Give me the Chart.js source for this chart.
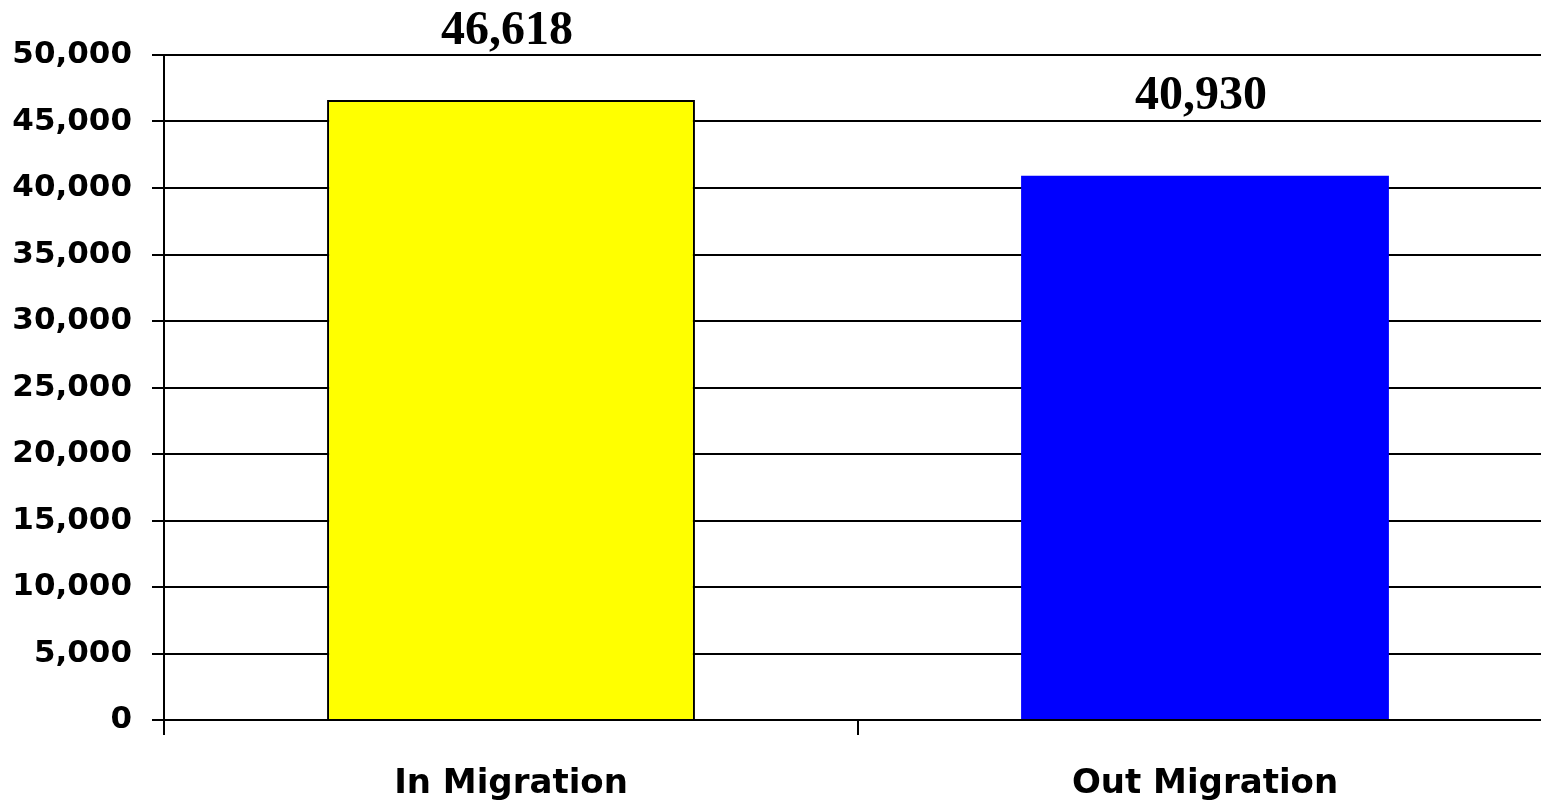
<!DOCTYPE html>
<html>
<head>
<meta charset="utf-8">
<script src="https://cdn.jsdelivr.net/npm/chart.js@4/dist/chart.umd.min.js"></script>
<style>
  html, body { margin: 0; padding: 0; background: #fff; overflow: hidden; }
  #wrap { width: 1552px; height: 810px; position: relative; }
</style>
</head>
<body>
<div id="wrap"><canvas id="chart"></canvas></div>
<script>
// data
const categories = ['In Migration', 'Out Migration'];
const values = [46618, 40930];
const barColors = ['#FFFF00', '#0000FF'];
const barBorders = ['#000000', '#0000FF'];
const yMax = 50000;
const yStep = 5000;

const fmt = v => Number(v).toLocaleString('en-US');

// value labels above bars (Times-like bold)
const valueLabels = {
  id: 'valueLabels',
  afterDatasetsDraw(chart) {
    const ctx = chart.ctx;
    const meta = chart.getDatasetMeta(0);
    ctx.save();
    ctx.font = 'bold 48px "Liberation Serif", "Times New Roman", serif';
    ctx.fillStyle = '#000';
    ctx.textAlign = 'center';
    ctx.textBaseline = 'alphabetic';
    meta.data.forEach((bar, i) => {
      const y = Math.max(bar.y - 67, 44);
      ctx.fillText(fmt(values[i]), bar.x - 4, y);
    });
    ctx.restore();
  }
};

new Chart(document.getElementById('chart'), {
  type: 'bar',
  data: {
    labels: categories,
    datasets: [{
      data: values,
      backgroundColor: barColors,
      borderColor: barBorders,
      borderWidth: [2, 0],
      categoryPercentage: 1,
      barPercentage: 0.53,
    }],
  },
  options: {
    responsive: true,
    maintainAspectRatio: false,
    animation: false,
    layout: { padding: { top: 55, right: 0, bottom: 0, left: 0 } },
    plugins: {
      legend: { display: false },
      tooltip: { enabled: false },
    },
    scales: {
      x: {
        grid: {
          offset: true,
          drawOnChartArea: false,
          drawTicks: true,
          tickLength: 15,
          color: '#000',
          lineWidth: 2,
        },
        border: { color: '#000', width: 2 },
        ticks: {
          color: '#000',
          padding: 29,
          font: { family: '"DejaVu Sans", sans-serif', size: 34, weight: 'bold' },
        },
        afterFit(scale) { scale.height = 90; },
      },
      y: {
        min: 0,
        max: yMax,
        ticks: {
          stepSize: yStep,
          color: '#000',
          padding: 20,
          font: { family: '"DejaVu Sans", sans-serif', size: 31, weight: 'bold' },
          callback: v => fmt(v),
        },
        grid: {
          color: '#000',
          lineWidth: 2,
          tickLength: 12,
        },
        border: { color: '#000', width: 2 },
        afterFit(scale) { scale.width = 164; },
      },
    },
  },
  plugins: [valueLabels],
});
</script>
</body>
</html>
